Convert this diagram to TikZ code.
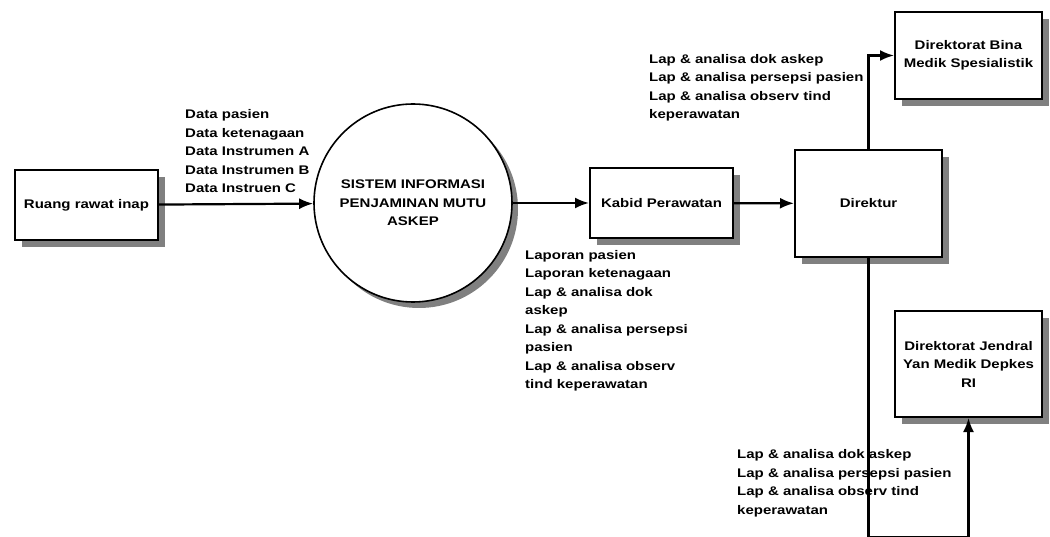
\documentclass[tikz,border=0pt]{standalone}
\usepackage{fontspec}
\setmainfont{Liberation Sans}[FakeStretch=1.2]
\usetikzlibrary{arrows.meta,shadows,calc}

\begin{document}
\begin{tikzpicture}[x=1pt,y=-1pt,
  every node/.style={font=\fontsize{12.5}{18.5}\selectfont\bfseries},
  boxshadow/.style={drop shadow={shadow xshift=7pt,shadow yshift=-7pt,fill=black!50,opacity=1}},
  entity/.style={draw, rectangle, line width=2pt, fill=white, inner sep=2pt,
                 align=center, boxshadow},
  process/.style={draw, circle, line width=1.6pt, fill=white, minimum size=198pt,
                  inner sep=0pt, align=center,
                  drop shadow={shadow xshift=6pt,shadow yshift=-6pt,fill=black!50,opacity=1}},
  flow/.style={line width=2.2pt, -{Latex[length=14pt,width=11pt]}},
  flowlabel/.style={align=left, anchor=west, inner sep=0pt}
]
\useasboundingbox (0,0) rectangle (1050,537);

% external entities and the process
\node[entity, minimum width=143pt, minimum height=70pt] (ruang) at (86.5,205) {Ruang rawat inap};
\node[process] (sys) at (413,203) {SISTEM INFORMASI\\PENJAMINAN MUTU\\ASKEP};
\node[entity, minimum width=143pt, minimum height=70pt] (kabid) at (661.5,203) {Kabid Perawatan};
\node[entity, minimum width=147pt, minimum height=107pt] (direktur) at (868.5,203.5) {Direktur};
\node[entity, minimum width=147pt, minimum height=87pt] (bina) at (968.5,55.5) {Direktorat Bina\\Medik Spesialistik};
\node[entity, minimum width=147pt, minimum height=106pt] (jendral) at (968.5,364) {Direktorat Jendral\\Yan Medik Depkes\\RI};
\coordinate (base) at (0,537);

% data flows
\draw[flow] (ruang) -- (sys);
\draw[flow] (sys) -- (kabid);
\draw[flow] (kabid) -- (direktur);
\draw[flow] (direktur.north) |- (bina.west);
\draw[flow] (direktur.south) -- (direktur.south |- base) -| (jendral.south);

% flow labels
\node[flowlabel] (l1) at (185,151.5) {Data pasien\\Data ketenagaan\\Data Instrumen A\\Data Instrumen B\\Data Instruen C};
\node[flowlabel] (l2) at (525,321) {Laporan pasien\\Laporan ketenagaan\\Lap \& analisa dok\\askep\\Lap \& analisa persepsi\\pasien\\Lap \& analisa observ\\tind keperawatan};
\node[flowlabel] (l3) at (649,88) {Lap \& analisa dok askep\\Lap \& analisa persepsi pasien\\Lap \& analisa observ tind\\keperawatan};
\node[flowlabel] (l4) at (737,483.5) {Lap \& analisa dok askep\\Lap \& analisa persepsi pasien\\Lap \& analisa observ tind\\keperawatan};
\end{tikzpicture}
\end{document}
